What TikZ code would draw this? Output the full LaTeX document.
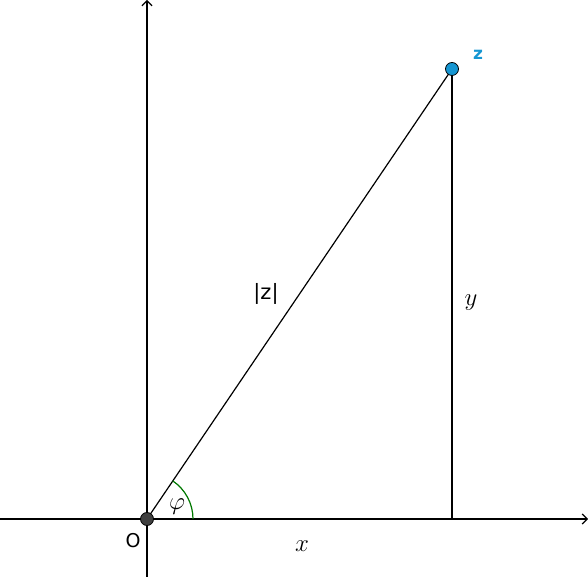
\documentclass[tikz,border=0pt]{standalone}
\usepackage{fontspec}
\newfontfamily\geofont{DejaVu Sans}
\usetikzlibrary{arrows.meta}
\definecolor{zblue}{RGB}{22,150,210}
\definecolor{anglegreen}{RGB}{0,120,0}
\definecolor{origingray}{RGB}{64,64,64}
\begin{document}
\begin{tikzpicture}[x=1pt,y=1pt]
		\begin{scope}[
			axis/.style={line width=1.2pt,-{Straight Barb[length=5pt,width=10pt]}},
			seg/.style={line width=1.2pt},
			pointdot/.style={circle,draw=black,line width=0.8pt,inner sep=0pt,minimum size=13pt}]
		\newcommand{\angr}{46}
		\newcommand{\angphi}{55.9}
		\useasboundingbox (0,0) rectangle (588,577);

		\coordinate (O) at (147,58);
		\coordinate (Z) at (452,508);
		\coordinate (Zfoot) at (452,58);
		\coordinate (xstart) at (0,58);
		\coordinate (xend) at (588,58);
		\coordinate (ystart) at (147,0);
		\coordinate (yend) at (147,577);

		% axes
		\draw[axis] (xstart) -- (xend);
		\draw[axis] (ystart) -- (yend);

		% modulus and imaginary part
		\draw[seg] (O) -- (Z);
		\draw[seg] (Z) -- (Zfoot);

		% angle
		\draw[anglegreen, line width=1.2pt] ([xshift=\angr pt]O) arc (0:\angphi:\angr);

		% points
		\node[pointdot, fill=origingray] (Odot) at (O) {};
		\node[pointdot, fill=zblue] (Zdot) at (Z) {};

		\node[font=\geofont\fontsize{21}{24}\selectfont] (modz) at (266,283) {|z|};
		\node[font=\fontsize{24}{26}\selectfont] (ylabel) at (471,274) {$y$};
		\node[font=\fontsize{24}{26}\selectfont] (xlabel) at (302,31) {$x$};
		\node[font=\geofont\fontsize{19}{22}\selectfont] (Olabel) at (133,36) {O};
		\node[font=\fontsize{24}{26}\selectfont] (philabel) at (177,70) {$\varphi$};
		\node[font=\geofont\bfseries\fontsize{17}{19}\selectfont, text=zblue] (zlabel) at (478,522) {z};
		\end{scope}
\end{tikzpicture}
\end{document}
